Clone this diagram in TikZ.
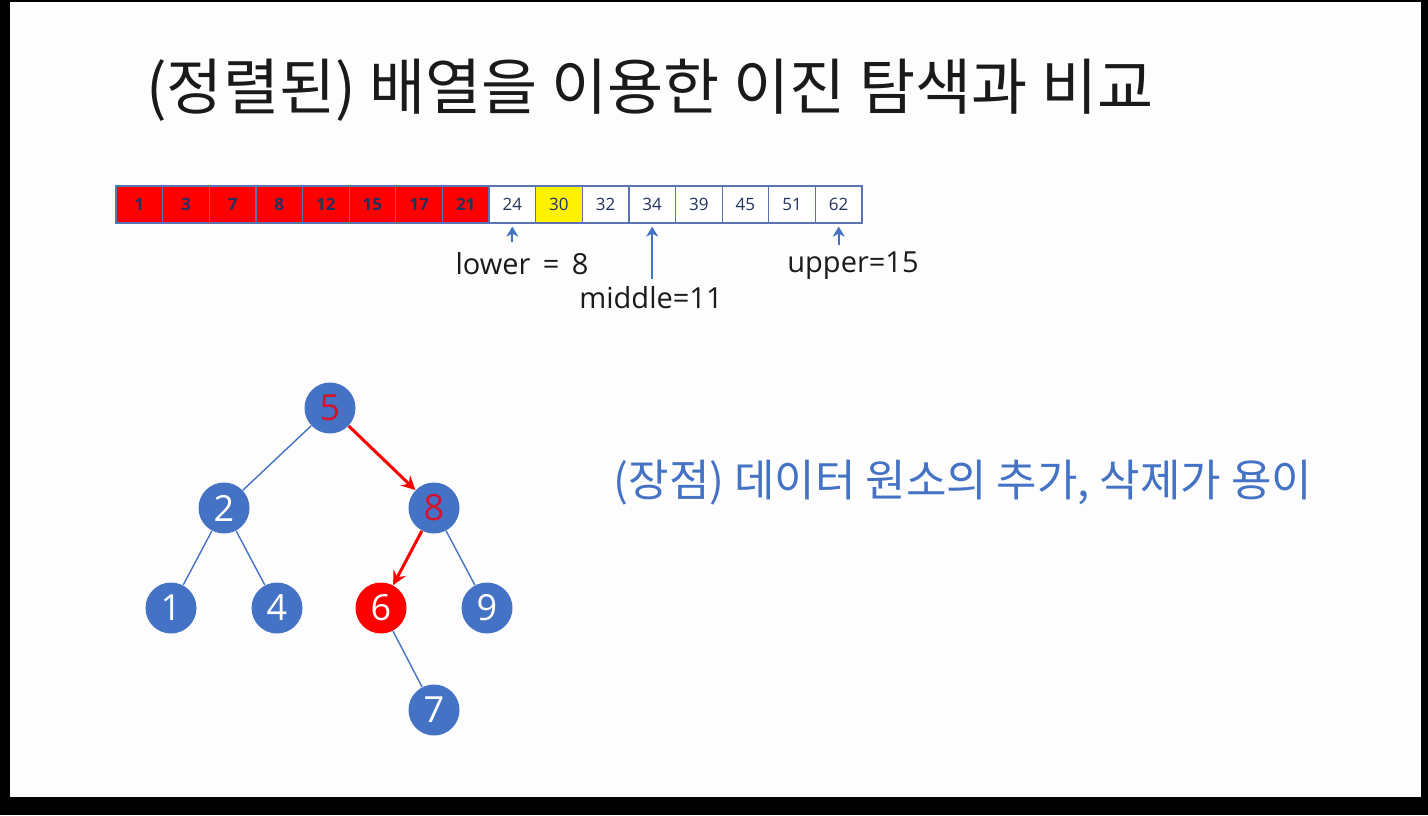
\documentclass[tikz,border=0pt]{standalone}
\usepackage{fontspec}
\setmainfont{Open Sans}
\newfontfamily\kor{Noto Sans CJK KR}
\usetikzlibrary{arrows.meta}
\definecolor{slide}{HTML}{FDFDFD}
\definecolor{nodeblue}{HTML}{4472C4}
\definecolor{cellline}{HTML}{5B73B0}
\definecolor{cellnum}{HTML}{22335F}
\definecolor{keyred}{HTML}{D9122B}
\definecolor{ink}{HTML}{1A1A1A}

\begin{document}
\begin{tikzpicture}[x=0.5pt,y=-0.5pt]
		\tikzstyle{every node}+=[inner sep=0pt]
		\tikzstyle{cell}=[draw=cellline, line width=0.6pt, minimum width=23.3pt, minimum height=18.5pt, font=\fontsize{8.5}{8.5}\selectfont, text=cellnum]
		\tikzstyle{done}=[cell, fill=red, font=\fontsize{8.5}{8.5}\selectfont\bfseries]
		\tikzstyle{hit}=[cell, fill=yellow]
		\tikzstyle{todo}=[cell, fill=white]
		\tikzstyle{ptr}=[nodeblue, line width=0.9pt, -{Stealth[length=5pt,width=6pt,inset=1.5pt]}, shorten >=1.5pt]
		\tikzstyle{tag}=[text=ink, font=\fontsize{14.5}{14.5}\selectfont]
		\tikzstyle{vertex}=[circle, fill=nodeblue, minimum size=25.5pt, text=white, font=\fontsize{18}{18}\selectfont]
		\tikzstyle{edge}=[nodeblue, line width=0.7pt]
		\tikzstyle{route}=[red, line width=1.5pt, -{Stealth[length=7pt,width=7pt,inset=2.5pt]}]
		% slide
		\fill [black] (0,0) rectangle (1428,815);
		\fill [slide] (10,2) rectangle (1421,797);
		\node [font=\kor\fontsize{30.5}{30.5}\selectfont, text=ink] (title) at (650,90) {(정렬된) 배열을 이용한 이진 탐색과 비교};
		% sorted array
		\node [done] (c1) at (139.3,204.5) {1};
		\node [done] (c2) at (185.9,204.5) {3};
		\node [done] (c3) at (232.6,204.5) {7};
		\node [done] (c4) at (279.2,204.5) {8};
		\node [done] (c5) at (325.8,204.5) {12};
		\node [done] (c6) at (372.4,204.5) {15};
		\node [done] (c7) at (419.1,204.5) {17};
		\node [done] (c8) at (465.7,204.5) {21};
		\node [todo] (c9) at (512.3,204.5) {24};
		\node [hit] (c10) at (558.9,204.5) {30};
		\node [todo] (c11) at (605.6,204.5) {32};
		\node [todo] (c12) at (652.2,204.5) {34};
		\node [todo] (c13) at (698.8,204.5) {39};
		\node [todo] (c14) at (745.4,204.5) {45};
		\node [todo] (c15) at (792.1,204.5) {51};
		\node [todo] (c16) at (838.7,204.5) {62};
		% pointers
		\coordinate (lowtail) at (512.3,242);
		\coordinate (midtail) at (652.2,279);
		\coordinate (uptail) at (838.7,245);
		\draw [ptr] (lowtail) -- (c9.south);
		\draw [ptr] (midtail) -- (c12.south);
		\draw [ptr] (uptail) -- (c16.south);
		\node [tag] (lowlbl) at (522,264) {lower\ \,=\ \,8};
		\node [tag] (midlbl) at (651,298) {middle=11};
		\node [tag] (uplbl) at (853,266) {upper=15};
		% search tree
		\node [vertex, text=keyred] (n5) at (330,408) {5};
		\node [vertex] (n2) at (224,508) {2};
		\node [vertex, text=keyred] (n8) at (434,508) {8};
		\node [vertex] (n1) at (171,608) {1};
		\node [vertex] (n4) at (277,608) {4};
		\node [vertex, fill=red] (n6) at (381,608) {6};
		\node [vertex] (n9) at (487,608) {9};
		\node [vertex] (n7) at (434,710) {7};
		\draw [edge] (n5) -- (n2);
		\draw [edge] (n2) -- (n1);
		\draw [edge] (n2) -- (n4);
		\draw [edge] (n8) -- (n9);
		\draw [edge] (n6) -- (n7);
		\draw [route] (n5) -- (n8);
		\draw [route] (n8) -- (n6);
		\node [font=\kor\fontsize{22}{22}\selectfont, text=nodeblue] (merit) at (963,483) {(장점) 데이터 원소의 추가, 삭제가 용이};
	\end{tikzpicture}
\end{document}
